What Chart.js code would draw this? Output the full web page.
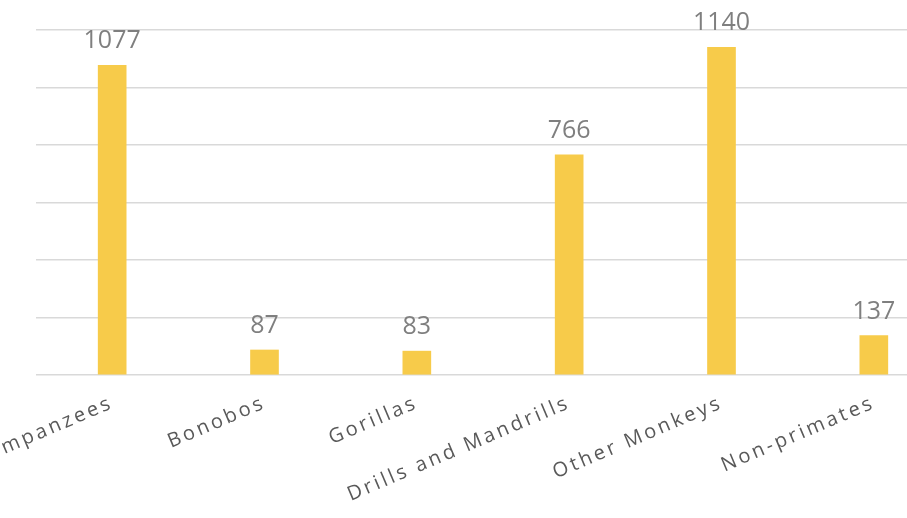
<!DOCTYPE html>
<html>
<head>
<meta charset="utf-8">
<script src="https://cdn.jsdelivr.net/npm/chart.js@4/dist/chart.umd.min.js"></script>
<style>
  html, body { margin: 0; padding: 0; background: #ffffff; overflow: hidden; }
  #wrap { position: absolute; left: 0; top: 0; width: 960px; height: 518px; }
</style>
</head>
<body>
<div id="wrap"><canvas id="c" width="960" height="518"></canvas></div>
<script>
const categories = ["Chimpanzees", "Bonobos", "Gorillas", "Drills and Mandrills", "Other Monkeys", "Non-primates"];
const counts = [1077, 87, 83, 766, 1140, 137];
const yTicks = [0, 200, 400, 600, 800, 1000, 1200];

const letterSpacingPlugin = {
  id: 'letterSpacing',
  beforeDraw(chart) { chart.ctx.letterSpacing = '3px'; },
  afterDatasetsDraw(chart) {
    const ctx = chart.ctx;
    ctx.save();
    ctx.letterSpacing = '0px';
    ctx.font = '25px "Open Sans"';
    ctx.fillStyle = '#7f7f7f';
    ctx.textAlign = 'center';
    ctx.textBaseline = 'alphabetic';
    const meta = chart.getDatasetMeta(0);
    meta.data.forEach((bar, i) => {
      ctx.fillText(String(chart.data.datasets[0].data[i]), bar.x, bar.y - 17);
    });
    ctx.restore();
  }
};

new Chart(document.getElementById('c'), {
  type: 'bar',
  data: {
    labels: categories,
    datasets: [{
      data: counts,
      backgroundColor: '#F7CB4A',
      borderWidth: 0,
      barThickness: 28
    }]
  },
  options: {
    responsive: false,
    animation: false,
    layout: { padding: { left: 36, right: 10, top: 30, bottom: 0 } },
    plugins: { legend: { display: false }, tooltip: { enabled: false } },
    scales: {
      x: {
        grid: { display: false, drawTicks: false },
        border: { display: false },
        ticks: {
          autoSkip: false,
          minRotation: 23,
          maxRotation: 23,
          padding: 16,
          color: '#595959',
          font: { family: '"Open Sans"', size: 20 }
        },
        afterFit(s) { s.height = 143; s.paddingLeft = 0; s.paddingRight = 0; }
      },
      y: {
        min: 0,
        max: 1200,
        afterBuildTicks(s) { s.ticks = yTicks.map(v => ({ value: v })); },
        ticks: { display: false },
        grid: { color: '#d9d9d9', lineWidth: 1.5, drawTicks: false },
        border: { display: false },
        afterFit(s) { s.width = 0; }
      }
    }
  },
  plugins: [letterSpacingPlugin]
});
</script>
</body>
</html>
